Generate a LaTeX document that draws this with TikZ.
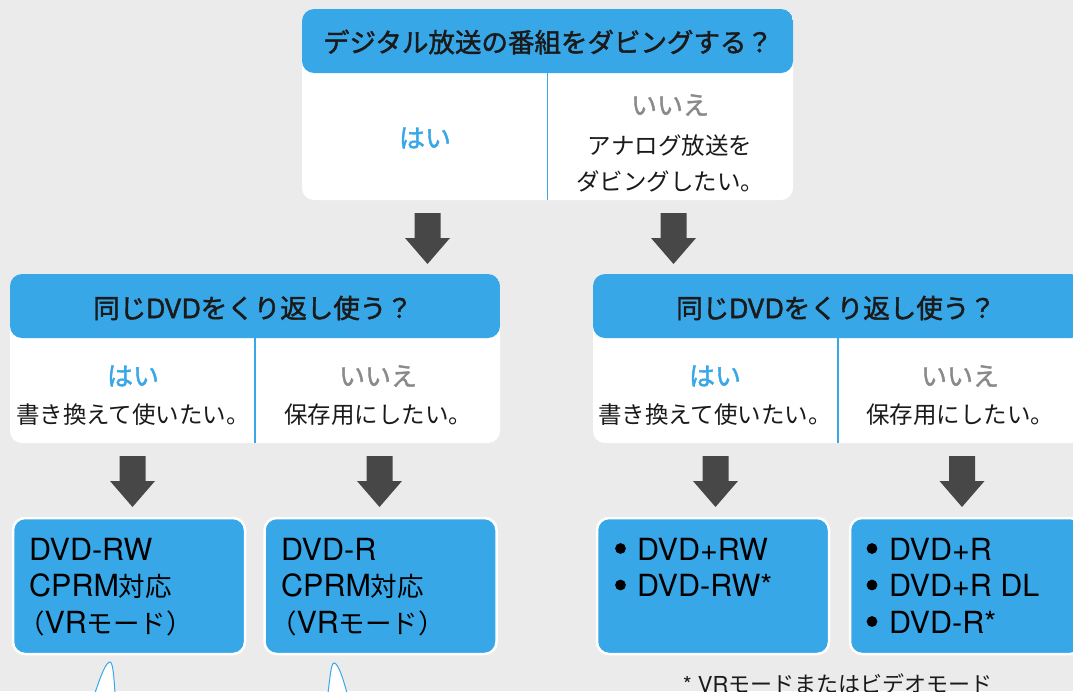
\documentclass[tikz,border=0pt]{standalone}
\usepackage{fontspec}
\setmainfont{Noto Sans CJK JP}
\newfontfamily\hv{TeX Gyre Heros}
\newfontfamily\jpm{Noto Sans CJK JP}[FakeBold=1.6]
\newfontfamily\hvm{TeX Gyre Heros}[FakeBold=1.6]
\usetikzlibrary{calc}
\definecolor{bg}{HTML}{EBEBEB}
\definecolor{sky}{HTML}{38A7E8}
\definecolor{arr}{HTML}{474747}
\definecolor{nog}{HTML}{8A8A8A}
\definecolor{ink}{HTML}{1A1A1A}
\newcommand\fs[1]{\fontsize{#1}{#1}\selectfont}
\newcommand\blockarrow[1]{\fill[arr] ([xshift=-13pt]#1) -- ++(26,0) -- ++(0,25) -- ++(9.5,0) -- ++(-22.5,26) -- ++(-22.5,-26) -- ++(9.5,0) -- cycle;}
\tikzset{
  qbox/.style 2 args={rectangle, fill=white, rounded corners=12pt, inner sep=0pt,
    minimum width=#1, minimum height=#2,
    path picture={\fill[sky] (path picture bounding box.north west) rectangle ([yshift=-64pt]path picture bounding box.north east);
      \draw[sky, line width=1.5pt] ([yshift=-64pt]path picture bounding box.north) -- (path picture bounding box.south);}},
  dbox/.style={rectangle, fill=sky, draw=white, line width=2.5pt, rounded corners=12pt,
    minimum width=232pt, minimum height=136pt, inner sep=0pt},
  head/.style={font=\fs{26.5}\jpm, text=ink, inner sep=0pt},
  yes/.style={font=\fs{26}\jpm, text=sky, inner sep=0pt},
  no/.style={font=\fs{26}\jpm, text=nog, inner sep=0pt},
  body/.style={font=\fs{23.5}, text=ink, inner sep=0pt},
  big/.style={font=\fs{30.5}\hv, text=black, inner sep=0pt, anchor=base west},
  note/.style={font=\fs{22}, text=ink, inner sep=0pt, anchor=base west},
  dot/.style={fill=black},
  tail/.style={draw=sky, fill=white, line width=1pt}
}
\newcommand\jb[1]{{\fontsize{26.5}{26.5}\rmfamily\selectfont #1}}
\begin{document}
\begin{tikzpicture}[x=1pt,y=-1pt]
\useasboundingbox (0,0) rectangle (1073,691);
\clip (0,0) rectangle (1073,691);
\fill[bg] (0,0) rectangle (1073,691);

% question boxes
\node[qbox={491pt}{191pt}] (q1) at (547.5,104.5) {};
\node[qbox={490pt}{169pt}] (q2) at (255,358.5) {};
\node[qbox={490pt}{169pt}] (q3) at (838,358.5) {};

% top box texts
\node[head] (t1) at (548,42) {デジタル放送の番組をダビングする？};
\node[yes] (y1) at (425,138) {はい};
\node[no] (n1) at (670,105) {いいえ};
\node[body] (n1a) at (670,146) {アナログ放送を};
\node[body] (n1b) at (670,181) {ダビングしたい。};

% second level texts
\node[head] (t2) at (253,308) {同じ{\hvm DVD}をくり返し使う？};
\node[yes] (y2) at (133,376) {はい};
\node[body] (y2a) at (133,415) {書き換えて使いたい。};
\node[no] (n2) at (378,376) {いいえ};
\node[body] (n2a) at (378,415) {保存用にしたい。};

\node[head] (t3) at (836,308) {同じ{\hvm DVD}をくり返し使う？};
\node[yes] (y3) at (715,376) {はい};
\node[body] (y3a) at (715,415) {書き換えて使いたい。};
\node[no] (n3) at (960,376) {いいえ};
\node[body] (n3a) at (960,415) {保存用にしたい。};

% arrows
\coordinate (a1) at (427.5,213);
\coordinate (a2) at (673.5,213);
\coordinate (a3) at (132.5,456);
\coordinate (a4) at (379.5,456);
\coordinate (a5) at (715.5,456);
\coordinate (a6) at (962,456);
\blockarrow{a1}\blockarrow{a2}\blockarrow{a3}\blockarrow{a4}\blockarrow{a5}\blockarrow{a6}

% disc boxes
\node[dbox] (d1) at (129,586) {};
\node[dbox] (d2) at (380.5,586) {};
\node[dbox] (d3) at (713,586) {};
\node[dbox] (d4) at (966,586) {};

\node[big] (d1a) at (29,560) {DVD-RW};
\node[big] (d1b) at (29,596.5) {CPRM\jb{対応}};
\node[big] (d1c) at (29,633) {\jb{\kern-0.42em（}VR\jb{モード）}};

\node[big] (d2a) at (281,560) {DVD-R};
\node[big] (d2b) at (281,596.5) {CPRM\jb{対応}};
\node[big] (d2c) at (281,633) {\jb{\kern-0.42em（}VR\jb{モード）}};

\fill[dot] (620.5,548.5) circle (5.4);
\fill[dot] (620.5,585) circle (5.4);
\node[big] (d3a) at (637,560) {DVD+RW};
\node[big] (d3b) at (637,596.5) {DVD-RW*};

\fill[dot] (872,548.5) circle (5.4);
\fill[dot] (872,585) circle (5.4);
\fill[dot] (872,621.5) circle (5.4);
\node[big] (d4a) at (889,560) {DVD+R};
\node[big] (d4b) at (889,596.5) {DVD+R DL};
\node[big] (d4c) at (889,633) {DVD-R*};

% footnote
\node[note] (fn) at (683,692) {{\hv * VR}モードまたはビデオモード};

% tails
\draw[tail] (95,693) .. controls (101,675) and (106,662) .. (110,662) .. controls (113,662) and (114,678) .. (115,693);
\draw[tail] (328,693) .. controls (330,678) and (331,663) .. (334,663) .. controls (338,663) and (343,678) .. (347,693);
\end{tikzpicture}
\end{document}
